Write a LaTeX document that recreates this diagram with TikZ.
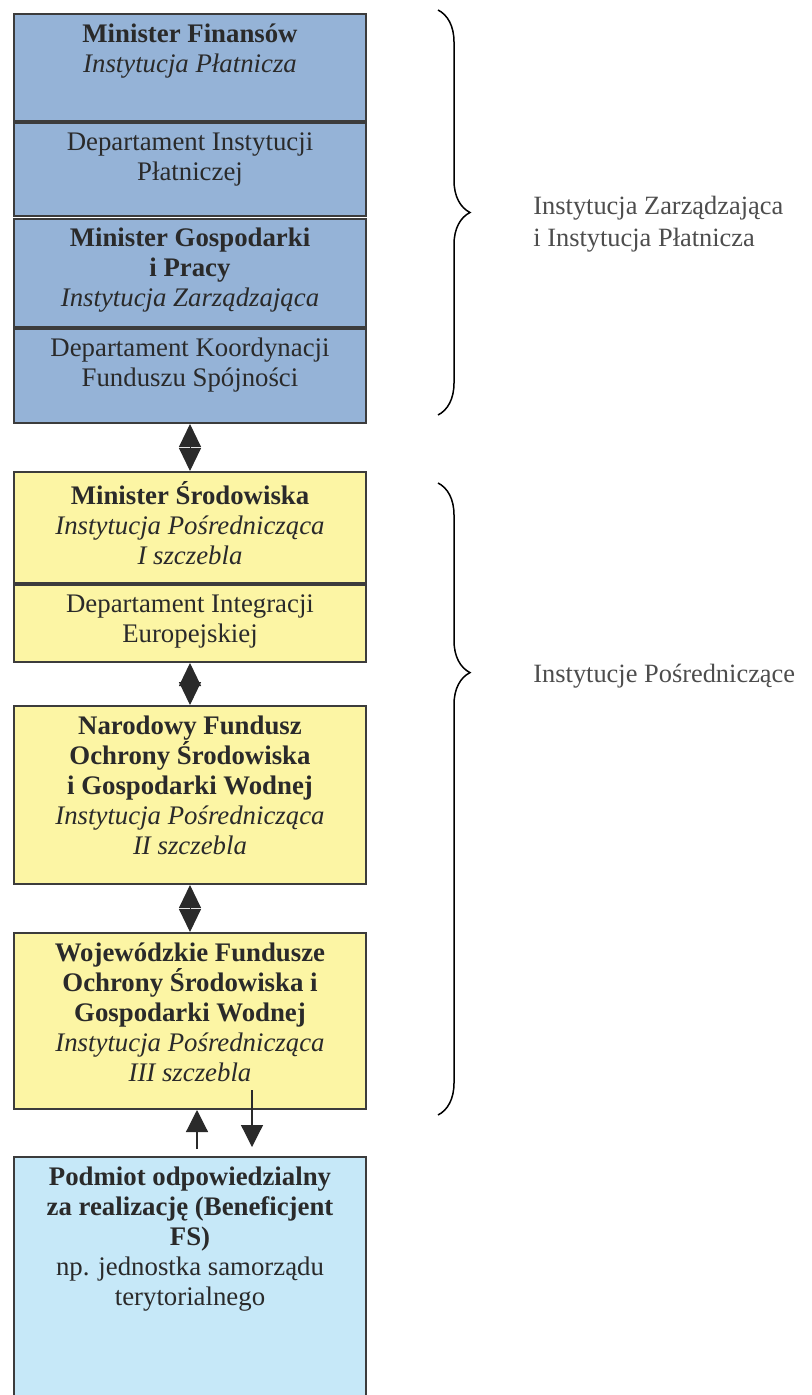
\documentclass[tikz,border=0pt]{standalone}
\usepackage{fontspec}
\setmainfont{LiberationSerif}[Extension=.ttf, UprightFont=*-Regular, BoldFont=*-Bold, ItalicFont=*-Italic, BoldItalicFont=*-BoldItalic]
\usetikzlibrary{positioning,arrows.meta,decorations.pathreplacing}
\definecolor{edge}{HTML}{3C3C3C}
\definecolor{ink}{HTML}{2A2A2A}
\definecolor{grey}{HTML}{4D4D4D}
\definecolor{mfblue}{HTML}{95B3D7}
\definecolor{msyellow}{HTML}{FCF5A4}
\definecolor{pbcyan}{HTML}{C6E8F8}
\tikzset{
  cell/.style={draw=edge, line width=1pt, minimum width=176pt, anchor=north west, inner sep=0pt},
  cellb/.style={cell, fill=mfblue},
  celly/.style={cell, fill=msyellow},
  cellc/.style={cell, fill=pbcyan},
  txt/.style={text=ink, font=\fontsize{13.4}{15}\selectfont, align=center, inner sep=0pt, execute at begin node=\strut},
  lab/.style={text=grey, font=\fontsize{13.2}{16}\selectfont, align=left, inner sep=0pt, anchor=north west, execute at begin node=\strut},
  dbl/.style={draw=ink, line width=0.5pt, {Triangle[width=11pt,length=11.5pt]}-{Triangle[width=11pt,length=11.5pt]}},
  one/.style={draw=ink, line width=0.6pt, -{Triangle[width=11pt,length=11pt]}},
  brc/.style={draw=black, line width=0.75pt, decorate, decoration={brace, amplitude=16pt}},
}
\begin{document}
\begin{tikzpicture}[x=0.5pt,y=-0.5pt]
  \fill[white] (0,0) rectangle (812,1395);
  \useasboundingbox (0,0) rectangle (812,1395);

  % Instytucja Zarzadzajaca i Platnicza
  \node[cellb, minimum height=53.5pt] (mf) at (13,13) {};
  \node[cellb, minimum height=46.5pt, below=0pt of mf] (dip) {};
  \node[cellb, minimum height=54pt] (mgp) at (13,218) {};
  \node[cellb, minimum height=47pt, below=0pt of mgp] (dkf) {};

  % Instytucje Posredniczace
  \node[celly, minimum height=55.5pt] (ms) at (13,471) {};
  \node[celly, minimum height=38.5pt, below=0pt of ms] (die) {};
  \node[celly, minimum height=89pt] (nf) at (13,705) {};
  \node[celly, minimum height=88pt] (wf) at (13,932) {};

  % beneficjent
  \node[cellc, minimum height=124pt] (pb) at (13,1156) {};

  \node[txt, below=5pt of mf.north] (mft) {\textbf{Minister Finansów}\\\textit{Instytucja Płatnicza}};
  \node[txt, below=5pt of dip.north] (dipt) {Departament Instytucji\\Płatniczej};
  \node[txt, below=5pt of mgp.north] (mgpt) {\textbf{Minister Gospodarki}\\\textbf{i Pracy}\\\textit{Instytucja Zarządzająca}};
  \node[txt, below=5pt of dkf.north] (dkft) {Departament Koordynacji\\Funduszu Spójności};
  \node[txt, below=5pt of ms.north] (mst) {\textbf{Minister Środowiska}\\\textit{Instytucja Pośrednicząca}\\\textit{I szczebla}};
  \node[txt, below=5pt of die.north] (diet) {Departament Integracji\\Europejskiej};
  \node[txt, below=5pt of nf.north] (nft) {\textbf{Narodowy Fundusz}\\\textbf{Ochrony Środowiska}\\\textbf{i Gospodarki Wodnej}\\\textit{Instytucja Pośrednicząca}\\\textit{II szczebla}};
  \node[txt, below=5pt of wf.north] (wft) {\textbf{Wojewódzkie Fundusze}\\\textbf{Ochrony Środowiska i}\\\textbf{Gospodarki Wodnej}\\\textit{Instytucja Pośrednicząca}\\\textit{III szczebla}};
  \node[txt, below=5pt of pb.north] (pbt) {\textbf{Podmiot odpowiedzialny}\\\textbf{za realizację (Beneficjent}\\\textbf{FS)}\\np. jednostka samorządu\\terytorialnego};

  \draw[dbl] (dkf) -- (ms);
  \draw[dbl] (die) -- (nf);
  \draw[dbl] (nf) -- (wf);

  \coordinate (upbeg) at (197,1149);
  \coordinate (dnbeg) at (252,1090);
  \coordinate (dnend) at (252,1147);
  \draw[one] (upbeg) -- (upbeg |- wf.south);
  \draw[one] (dnbeg) -- (dnend);

  % klamry
  \coordinate (b1a) at (438,10);
  \coordinate (b1b) at (438,415);
  \coordinate (b2a) at (438,483);
  \coordinate (b2b) at (438,1115);
  \draw[brc] (b1a) -- (b1b);
  \draw[brc, decoration={aspect=0.3}] (b2a) -- (b2b);

  \node[lab] (izip) at (533,196) {Instytucja Zarządzająca\\i Instytucja Płatnicza};
  \node[lab] (ip) at (533,660) {Instytucje Pośredniczące};
\end{tikzpicture}
\end{document}
